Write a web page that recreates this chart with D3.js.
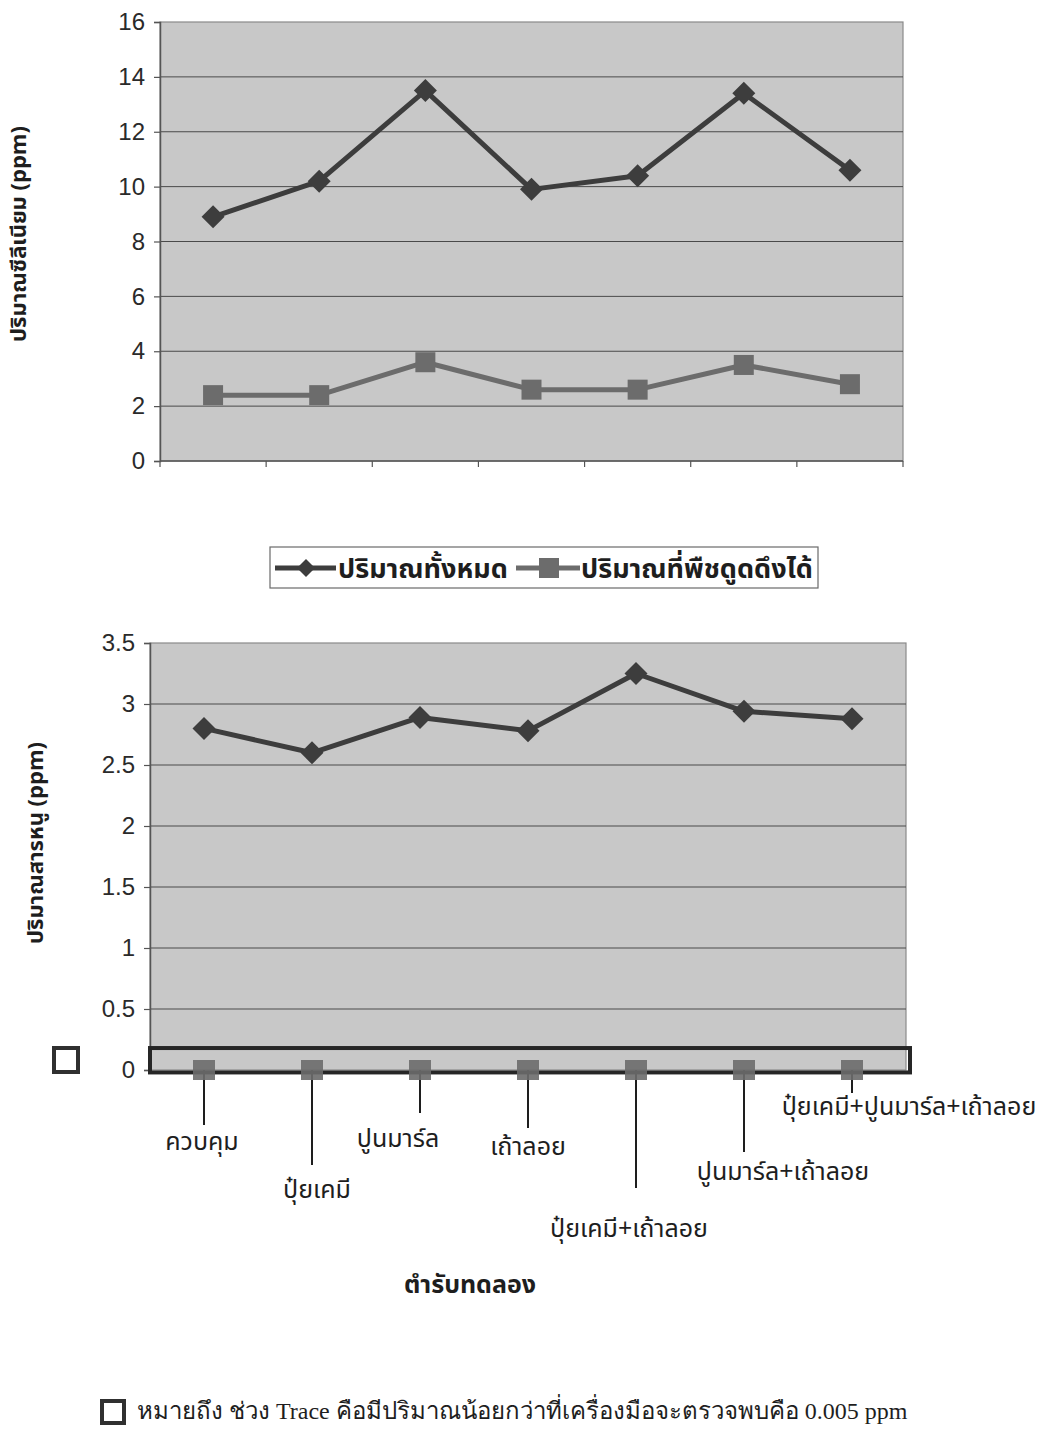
<!DOCTYPE html>
<html>
<head>
<meta charset="utf-8">
<script src="https://cdn.jsdelivr.net/npm/d3@7"></script>
<style>
  html, body { margin: 0; padding: 0; background: #ffffff; }
  svg { display: block; }
</style>
</head>
<body>
<svg id="chart" width="1046" height="1433"></svg>
<script>
// Treatments (x categories)
const categories = ["ควบคุม", "ปุ๋ยเคมี", "ปูนมาร์ล", "เถ้าลอย",
  "ปุ๋ยเคมี+เถ้าลอย", "ปูนมาร์ล+เถ้าลอย", "ปุ๋ยเคมี+ปูนมาร์ล+เถ้าลอย"];

// Selenium (ppm)
const seTotal = [8.9, 10.2, 13.5, 9.9, 10.4, 13.4, 10.6];
const seAvailable = [2.4, 2.4, 3.6, 2.6, 2.6, 3.5, 2.8];

// Arsenic (ppm); plant-available values are in the trace range
const asTotal = [2.8, 2.6, 2.89, 2.78, 3.25, 2.94, 2.88];
const asAvailable = [0, 0, 0, 0, 0, 0, 0];

// Tick labels
const seTicks = [0, 2, 4, 6, 8, 10, 12, 14, 16];
const asTicks = [0, 0.5, 1, 1.5, 2, 2.5, 3, 3.5];

// Series names
const seriesNames = ["ปริมาณทั้งหมด", "ปริมาณที่พืชดูดดึงได้"];

// Trace band in arsenic chart (ppm)
const traceBand = [-0.02, 0.18];

const svg = d3.select("#chart");
const thaiSans = "Tahoma, 'Noto Sans Thai', 'Noto Sans', 'DejaVu Sans', sans-serif";
const numFont = "'Liberation Sans', Arial, sans-serif";
const COL_DARK = "#3d3d3d";
const COL_MID = "#6c6c6c";
const PLOT_BG = "#c8c8c8";
const GRID = "#4a4a4a";

function drawDiamond(g, x, y, r, fill) {
  g.append("path")
    .attr("d", `M${x},${y - r}L${x + r},${y}L${x},${y + r}L${x - r},${y}Z`)
    .attr("fill", fill);
}

function panel(opts) {
  const { left, right, top, bottom, domain, ticks, tickFmt, yTitle, titleX, titleY } = opts;
  const g = svg.append("g");
  const x = d3.scaleBand().domain(categories).range([left, right]).padding(0);
  const y = d3.scaleLinear().domain(domain).range([bottom, top]);

  // plot area
  g.append("rect")
    .attr("x", left).attr("y", top)
    .attr("width", right - left).attr("height", bottom - top)
    .attr("fill", PLOT_BG).attr("stroke", "#8a8a8a").attr("stroke-width", 1.2);

  // gridlines
  g.append("g").selectAll("line")
    .data(ticks.filter(t => t > domain[0] && t < domain[1]))
    .join("line")
    .attr("x1", left).attr("x2", right)
    .attr("y1", d => y(d)).attr("y2", d => y(d))
    .attr("stroke", GRID).attr("stroke-width", 1);

  // y axis
  const yAxis = d3.axisLeft(y).tickValues(ticks).tickFormat(tickFmt).tickSize(6).tickPadding(9);
  const ya = g.append("g").attr("transform", `translate(${left},0)`).call(yAxis);
  ya.select(".domain").attr("stroke", "#555").attr("stroke-width", 1.5);
  ya.selectAll(".tick line").attr("stroke", "#555").attr("stroke-width", 1.2);
  ya.selectAll(".tick text")
    .attr("font-family", numFont).attr("font-size", 24).attr("fill", "#2a2a2a");

  // y title
  g.append("text")
    .attr("transform", `translate(${titleX},${titleY}) rotate(-90)`)
    .attr("text-anchor", "middle")
    .attr("dominant-baseline", "middle")
    .attr("font-family", thaiSans).attr("font-weight", "bold")
    .attr("font-size", 22).attr("fill", "#1e1e1e")
    .text(yTitle);

  return { g, x, y };
}

function seriesLine(g, x, y, values, color, width) {
  const line = d3.line()
    .x((d, i) => x(categories[i]) + x.bandwidth() / 2)
    .y(d => y(d));
  g.append("path").datum(values)
    .attr("d", line).attr("fill", "none")
    .attr("stroke", color).attr("stroke-width", width)
    .attr("stroke-linejoin", "round");
}

// ---------- Selenium chart ----------
{
  const { g, x, y } = panel({
    left: 160, right: 903, top: 22, bottom: 461,
    domain: [0, 16], ticks: seTicks, tickFmt: d3.format("d"),
    yTitle: "ปริมาณซีลีเนียม (ppm)", titleX: 20, titleY: 234
  });

  // x axis with category boundary ticks, no labels
  const xa = g.append("g").attr("transform", `translate(0,${y(0)})`);
  xa.append("line").attr("x1", x.range()[0]).attr("x2", x.range()[1])
    .attr("y1", 0).attr("y2", 0).attr("stroke", "#555").attr("stroke-width", 1.5);
  xa.selectAll("line.tk")
    .data(categories.map(c => x(c)).concat([x.range()[1]]))
    .join("line").attr("class", "tk")
    .attr("x1", d => d).attr("x2", d => d).attr("y1", 0).attr("y2", 6)
    .attr("stroke", "#555").attr("stroke-width", 1.2);

  seriesLine(g, x, y, seAvailable, COL_MID, 5);
  seriesLine(g, x, y, seTotal, COL_DARK, 5);

  seAvailable.forEach((v, i) => {
    const cx = x(categories[i]) + x.bandwidth() / 2;
    g.append("rect").attr("x", cx - 10).attr("y", y(v) - 10)
      .attr("width", 20).attr("height", 20).attr("fill", COL_MID);
  });
  seTotal.forEach((v, i) => {
    const cx = x(categories[i]) + x.bandwidth() / 2;
    drawDiamond(g, cx, y(v), 11.5, COL_DARK);
  });

  // legend
  const lg = svg.append("g");
  lg.append("rect").attr("x", 270).attr("y", 547).attr("width", 548).attr("height", 41)
    .attr("fill", "#ffffff").attr("stroke", "#6a6a6a").attr("stroke-width", 1.2);
  lg.append("line").attr("x1", 275).attr("x2", 336).attr("y1", 568).attr("y2", 568)
    .attr("stroke", COL_DARK).attr("stroke-width", 5);
  drawDiamond(lg, 306, 568, 9, COL_DARK);
  lg.append("text").attr("x", 338).attr("y", 578)
    .attr("font-family", thaiSans).attr("font-weight", "bold").attr("font-size", 27)
    .attr("fill", "#1e1e1e").text(seriesNames[0]);
  lg.append("line").attr("x1", 516).attr("x2", 580).attr("y1", 568).attr("y2", 568)
    .attr("stroke", COL_MID).attr("stroke-width", 5);
  lg.append("rect").attr("x", 539).attr("y", 558).attr("width", 20).attr("height", 20)
    .attr("fill", COL_MID);
  lg.append("text").attr("x", 581).attr("y", 578)
    .attr("font-family", thaiSans).attr("font-weight", "bold").attr("font-size", 27)
    .attr("fill", "#1e1e1e").text(seriesNames[1]);
}

// ---------- Arsenic chart ----------
{
  const { g, x, y } = panel({
    left: 150, right: 906, top: 643, bottom: 1070,
    domain: [0, 3.5], ticks: asTicks, tickFmt: d => String(d),
    yTitle: "ปริมาณสารหนู (ppm)", titleX: 37, titleY: 843
  });

  seriesLine(g, x, y, asTotal, COL_DARK, 5);
  asTotal.forEach((v, i) => {
    const cx = x(categories[i]) + x.bandwidth() / 2;
    drawDiamond(g, cx, y(v), 11.5, COL_DARK);
  });

  // trace band outline
  g.append("rect")
    .attr("x", x.range()[0]).attr("y", y(traceBand[1]))
    .attr("width", x.range()[1] + 4 - x.range()[0])
    .attr("height", y(traceBand[0]) - y(traceBand[1]))
    .attr("fill", "none").attr("stroke", "#262626").attr("stroke-width", 4);

  // leader line drop ends and label offsets for the staggered category labels
  const dropEnd = [1125, 1165, 1113, 1128, 1188, 1152, 1093];
  const labelDx = [-2, 5, -22, 0, -7, 39, 57];
  const labelGap = [25, 33, 34, 27, 49, 28, 22];

  asAvailable.forEach((v, i) => {
    const cx = x(categories[i]) + x.bandwidth() / 2;
    g.append("line").attr("x1", cx).attr("x2", cx)
      .attr("y1", y(v)).attr("y2", dropEnd[i])
      .attr("stroke", "#1e1e1e").attr("stroke-width", 2);
    g.append("rect").attr("x", cx - 11).attr("y", y(v) - 10)
      .attr("width", 22).attr("height", 20).attr("fill", COL_MID).attr("opacity", 0.9);
    g.append("text").attr("x", cx + labelDx[i]).attr("y", dropEnd[i] + labelGap[i])
      .attr("text-anchor", "middle")
      .attr("font-family", thaiSans).attr("font-size", 25).attr("fill", "#1e1e1e")
      .text(categories[i]);
  });

  // marker box beside the zero tick
  svg.append("rect").attr("x", 54).attr("y", 1048).attr("width", 24).attr("height", 24)
    .attr("fill", "#ffffff").attr("stroke", "#303030").attr("stroke-width", 4);

  // x title
  svg.append("text").attr("x", 470).attr("y", 1293).attr("text-anchor", "middle")
    .attr("font-family", thaiSans).attr("font-weight", "bold").attr("font-size", 25)
    .attr("fill", "#1e1e1e").text("ตำรับทดลอง");
}

// ---------- footnote ----------
svg.append("rect").attr("x", 102).attr("y", 1401).attr("width", 22).attr("height", 22)
  .attr("fill", "#ffffff").attr("stroke", "#303030").attr("stroke-width", 4);
svg.append("text").attr("x", 137).attr("y", 1419)
  .attr("font-family", "'Liberation Serif', 'Times New Roman', serif").attr("font-size", 24)
  .attr("fill", "#1e1e1e")
  .text("หมายถึง ช่วง Trace คือมีปริมาณน้อยกว่าที่เครื่องมือจะตรวจพบคือ 0.005 ppm");
</script>
</body>
</html>
